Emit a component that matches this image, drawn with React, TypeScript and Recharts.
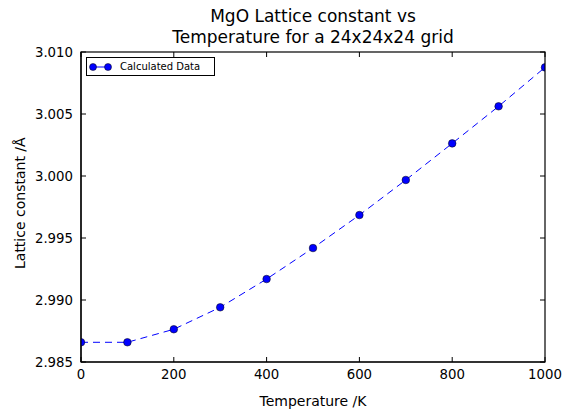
import React from 'react';
import { LineChart, Line, XAxis, YAxis } from 'recharts';

const temperatures = [0, 100, 200, 300, 400, 500, 600, 700, 800, 900, 1000];
const latticeConstants = [2.98659, 2.98659, 2.98764, 2.98941, 2.99169, 2.99419, 2.99685, 2.99968, 3.00263, 3.00562, 3.00876];
const xTicks = [0, 200, 400, 600, 800, 1000];
const yTicks = [2.985, 2.99, 2.995, 3.0, 3.005, 3.01];
const xDomain: [number, number] = [0, 1000];
const yDomain: [number, number] = [2.985, 3.01];

const data = temperatures.map((t, i) => ({ t, a: latticeConstants[i] }));

const FONT = '"DejaVu Sans", sans-serif';
const TL = 5;

const CHART_W = 573;
const CHART_H = 412;
const MARGIN = { top: 50, right: 26, bottom: 20, left: 21 };
const Y_AXIS_W = 60;
const X_AXIS_H = 30;
const SIDE_AXIS = 2;
const PLOT = {
  x: MARGIN.left + Y_AXIS_W,
  y: MARGIN.top + SIDE_AXIS,
  w: CHART_W - MARGIN.left - Y_AXIS_W - MARGIN.right - SIDE_AXIS,
  h: CHART_H - MARGIN.top - SIDE_AXIS - MARGIN.bottom - X_AXIS_H,
};

const BottomTick = (p: any) => {
  const { x, y, payload } = p;
  const axisY = y - 8;
  return (
    <g>
      <line x1={x} x2={x} y1={axisY} y2={axisY - TL} stroke="#000" strokeWidth={1} />
      <text x={x} y={y} dy="0.71em" textAnchor="middle" fill="#000" fontSize={13.3} fontFamily={FONT}>
        {payload.value}
      </text>
    </g>
  );
};

const LeftTick = (p: any) => {
  const { x, y, payload } = p;
  const axisX = x + 8;
  return (
    <g>
      <line x1={axisX} x2={axisX + TL} y1={y} y2={y} stroke="#000" strokeWidth={1} />
      <text x={x} y={y} dy="0.355em" textAnchor="end" fill="#000" fontSize={13.3} fontFamily={FONT}>
        {Number(payload.value).toFixed(3)}
      </text>
    </g>
  );
};

const TopTick = (p: any) => {
  const { x, y } = p;
  return <line x1={x} x2={x} y1={y} y2={y + TL} stroke="#000" strokeWidth={1} />;
};

const RightTick = (p: any) => {
  const { x, y } = p;
  return <line x1={x} x2={x - TL} y1={y} y2={y} stroke="#000" strokeWidth={1} />;
};

const LegendBox = () => (
  <div
    style={{
      position: 'absolute',
      left: 86,
      top: 57,
      width: 129,
      height: 19,
      border: '1px solid #000',
      background: '#fff',
      boxSizing: 'border-box',
      fontFamily: FONT,
      fontSize: 10,
      display: 'flex',
      alignItems: 'center',
    }}
  >
    <svg width={24} height={16} style={{ marginLeft: 2 }}>
      <line x1={4} y1={8} x2={19} y2={8} stroke="#0000ff" strokeWidth={1} />
      <circle cx={4} cy={8} r={3.5} fill="#0000ff" stroke="#000" strokeWidth={0.5} />
      <circle cx={19} cy={8} r={3.5} fill="#0000ff" stroke="#000" strokeWidth={0.5} />
    </svg>
    <span style={{ marginLeft: 7 }}>Calculated Data</span>
  </div>
);

export default function App() {
  return (
    <div style={{ position: 'absolute', left: 0, top: 0, width: CHART_W, height: CHART_H, background: '#fff', fontFamily: FONT }}>
      <div
        style={{
          position: 'absolute',
          left: PLOT.x,
          width: PLOT.w,
          top: 6,
          textAlign: 'center',
          fontFamily: FONT,
          fontSize: 17,
          lineHeight: '21px',
          color: '#000',
        }}
      >
        MgO Lattice constant vs
        <br />
        Temperature for a 24x24x24 grid
      </div>
      <LineChart
        width={CHART_W}
        height={CHART_H}
        data={data}
        margin={MARGIN}
        style={{ fontFamily: FONT }}
      >
        <XAxis
          xAxisId="b"
          dataKey="t"
          type="number"
          domain={xDomain}
          ticks={xTicks}
          height={X_AXIS_H}
          tickSize={0}
          tickMargin={8}
          tickLine={false}
          axisLine={{ stroke: '#000', strokeWidth: 1.2 }}
          tick={<BottomTick />}
          allowDataOverflow
          label={{ value: 'Temperature /K', position: 'insideBottom', offset: -14, fill: '#000', fontSize: 14, fontFamily: FONT }}
        />
        <XAxis
          xAxisId="top"
          orientation="top"
          dataKey="t"
          type="number"
          domain={xDomain}
          ticks={xTicks}
          height={SIDE_AXIS}
          tickSize={0}
          tickMargin={0}
          tickLine={false}
          axisLine={false}
          tick={<TopTick />}
          allowDataOverflow
        />
        <YAxis
          yAxisId="l"
          type="number"
          domain={yDomain}
          ticks={yTicks}
          width={Y_AXIS_W}
          tickSize={0}
          tickMargin={8}
          tickLine={false}
          axisLine={{ stroke: '#000', strokeWidth: 1.2 }}
          tick={<LeftTick />}
          allowDataOverflow
          label={{ value: 'Lattice constant /Å', angle: -90, position: 'insideLeft', offset: -1, dy: 62, fill: '#000', fontSize: 14, fontFamily: FONT }}
        />
        <YAxis
          yAxisId="r"
          orientation="right"
          type="number"
          domain={yDomain}
          ticks={yTicks}
          width={SIDE_AXIS}
          tickSize={0}
          tickMargin={0}
          tickLine={false}
          axisLine={false}
          tick={<RightTick />}
          allowDataOverflow
        />
        <Line
          xAxisId="top"
          yAxisId="r"
          type="linear"
          dataKey="a"
          stroke="none"
          dot={false}
          activeDot={false}
          legendType="none"
          isAnimationActive={false}
        />
        <Line
          xAxisId="b"
          yAxisId="l"
          type="linear"
          dataKey="a"
          stroke="#0000ff"
          strokeWidth={1}
          strokeDasharray="7 5"
          dot={{ r: 3.8, fill: '#0000ff', stroke: '#000', strokeWidth: 0.5, strokeDasharray: '' }}
          isAnimationActive={false}
        />
      </LineChart>
      <svg
        width={CHART_W}
        height={CHART_H}
        style={{ position: 'absolute', left: 0, top: 0, pointerEvents: 'none' }}
      >
        <rect x={PLOT.x} y={PLOT.y} width={PLOT.w} height={PLOT.h} fill="none" stroke="#000" strokeWidth={1.2} />
      </svg>
      <LegendBox />
    </div>
  );
}
